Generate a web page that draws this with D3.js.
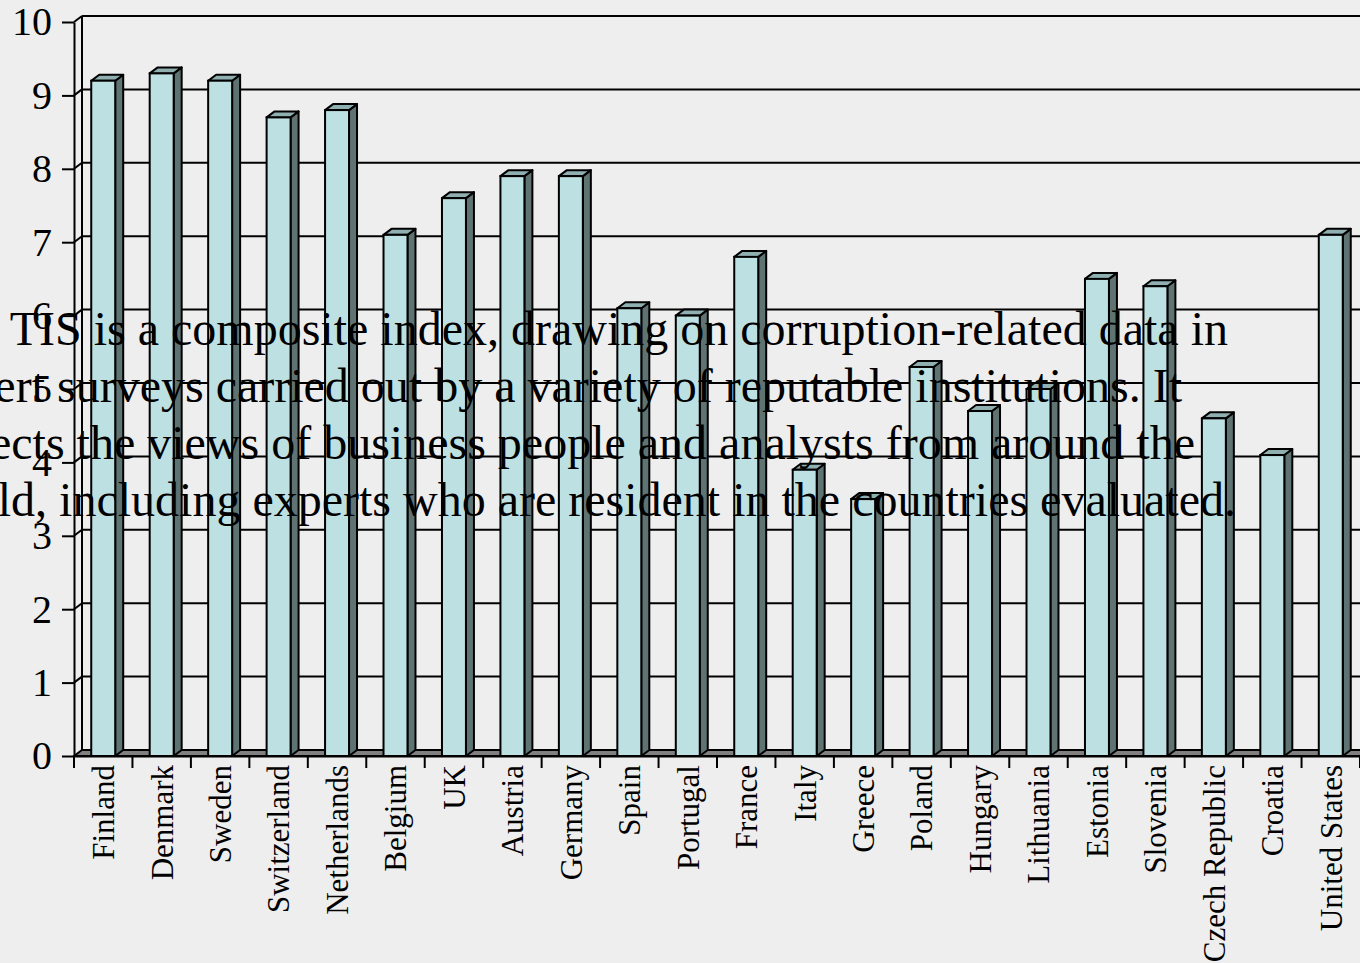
<!DOCTYPE html>
<html>
<head>
<meta charset="utf-8">
<script src="https://cdn.jsdelivr.net/npm/d3@7"></script>
<style>
  html, body { margin: 0; padding: 0; background: #eeeeee; }
  svg { display: block; }
  text { font-family: "Liberation Serif", "Times New Roman", serif; fill: #000; }
</style>
</head>
<body>
<svg id="chart" width="1360" height="963"></svg>
<script>
// Corruption perception scores by country
const categories = ["Finland", "Denmark", "Sweden", "Switzerland", "Netherlands", "Belgium", "UK",
  "Austria", "Germany", "Spain", "Portugal", "France", "Italy", "Greece", "Poland", "Hungary",
  "Lithuania", "Estonia", "Slovenia", "Czech Republic", "Croatia", "United States"];
const values = [9.2, 9.3, 9.2, 8.7, 8.8, 7.1, 7.6, 7.9, 7.9, 6.1, 6.0, 6.8, 3.9, 3.5, 5.3, 4.7,
  5.0, 6.5, 6.4, 4.6, 4.1, 7.1];
const yTicks = [0, 1, 2, 3, 4, 5, 6, 7, 8, 9, 10];
const noteLines = [
  "TIS is a composite index, drawing on corruption-related data in",
  "expert surveys carried out by a variety of reputable institutions. It",
  "reflects the views of business people and analysts from around the",
  "world, including experts who are resident in the countries evaluated."
];

(function () {
  const svg = d3.select("#chart");
  const W = 1360;

  // plot frame: front plane and depth offset of the 3-D box
  const plotLeft = 74, plotRight = 1360, plotTop = 22, plotBottom = 756;
  const dx = 8, dy = -6;

  const x = d3.scaleBand().domain(categories).range([plotLeft, plotRight])
    .paddingInner(0.59).paddingOuter(0.295);
  const y = d3.scaleLinear().domain([0, 10]).range([plotBottom, plotTop]);

  const frontCol = "#bde0e3", sideCol = "#5f7373", topCol = "#8fafb0", floorCol = "#808080";
  const ink = "#000";

  // side wall edges and back wall gridlines
  const walls = svg.append("g");
  walls.append("line").attr("x1", plotLeft + dx).attr("x2", plotLeft + dx)
    .attr("y1", y(10) + dy).attr("y2", y(0) + dy).attr("stroke", ink).attr("stroke-width", 2);
  walls.selectAll("line.grid").data(yTicks.filter(d => d > 0)).join("line")
    .attr("class", "grid")
    .attr("x1", plotLeft + dx).attr("x2", W + 20)
    .attr("y1", d => y(d) + dy).attr("y2", d => y(d) + dy)
    .attr("stroke", ink).attr("stroke-width", 2);
  walls.selectAll("line.diag").data(yTicks.filter(d => d > 0)).join("line")
    .attr("class", "diag")
    .attr("x1", plotLeft).attr("x2", plotLeft + dx)
    .attr("y1", d => y(d)).attr("y2", d => y(d) + dy)
    .attr("stroke", ink).attr("stroke-width", 2);

  // floor
  svg.append("path")
    .attr("d", `M${plotLeft},${y(0)} L${plotLeft + dx},${y(0) + dy} L${plotRight + dx},${y(0) + dy} L${plotRight},${y(0)} Z`)
    .attr("fill", floorCol).attr("stroke", ink).attr("stroke-width", 2);

  // 3-D columns
  const bw = x.bandwidth();
  const bars = svg.append("g").selectAll("g")
    .data(categories.map((c, i) => ({ c, v: values[i] }))).join("g");
  bars.append("path")
    .attr("d", d => {
      const x0 = x(d.c) + bw, yt = y(d.v), yb = y(0);
      return `M${x0},${yb} L${x0},${yt} L${x0 + dx},${yt + dy} L${x0 + dx},${yb + dy} Z`;
    })
    .attr("fill", sideCol).attr("stroke", ink).attr("stroke-width", 2).attr("stroke-linejoin", "round");
  bars.append("path")
    .attr("d", d => {
      const x0 = x(d.c), yt = y(d.v);
      return `M${x0},${yt} L${x0 + dx},${yt + dy} L${x0 + bw + dx},${yt + dy} L${x0 + bw},${yt} Z`;
    })
    .attr("fill", topCol).attr("stroke", ink).attr("stroke-width", 2).attr("stroke-linejoin", "round");
  bars.append("rect")
    .attr("x", d => x(d.c)).attr("y", d => y(d.v))
    .attr("width", bw).attr("height", d => y(0) - y(d.v))
    .attr("fill", frontCol).attr("stroke", ink).attr("stroke-width", 2);

  // value axis
  const yAxis = svg.append("g").attr("transform", `translate(${plotLeft},0)`)
    .call(d3.axisLeft(y).tickValues(yTicks).tickFormat(d3.format("d"))
      .tickSize(12).tickSizeOuter(0).tickPadding(10));
  yAxis.select(".domain").attr("stroke", ink).attr("stroke-width", 2);
  yAxis.selectAll(".tick line").attr("stroke", ink).attr("stroke-width", 2);
  yAxis.selectAll(".tick text").attr("font-size", 40)
    .attr("font-family", "'Liberation Serif', 'Times New Roman', serif").attr("fill", ink);

  // category axis
  const xAxis = svg.append("g").attr("transform", `translate(0,${plotBottom})`)
    .call(d3.axisBottom(x).tickSize(0).tickSizeOuter(0).tickPadding(0));
  xAxis.select(".domain").attr("stroke", ink).attr("stroke-width", 2);
  xAxis.selectAll(".tick text")
    .attr("font-size", 31)
    .attr("font-family", "'Liberation Serif', 'Times New Roman', serif").attr("fill", ink)
    .attr("text-anchor", "end")
    .attr("transform", "translate(0,9) rotate(-90)")
    .attr("x", 0).attr("y", 0).attr("dy", "0.35em");
  const boundaries = d3.range(categories.length + 1).map(i => plotLeft + i * x.step());
  xAxis.selectAll("line.bound").data(boundaries).join("line")
    .attr("class", "bound")
    .attr("x1", d => d).attr("x2", d => d).attr("y1", 0).attr("y2", 12)
    .attr("stroke", ink).attr("stroke-width", 2);

  // note text over the plot; each line is placed by its right end
  const noteRightEdges = [1228, 1182, 1195, 1236];
  svg.append("g").selectAll("text").data(noteLines).join("text")
    .attr("x", (d, i) => noteRightEdges[i]).attr("y", (d, i) => 345 + i * 57)
    .attr("text-anchor", "end").attr("font-size", 48)
    .text(d => d);
})();
</script>
</body>
</html>
